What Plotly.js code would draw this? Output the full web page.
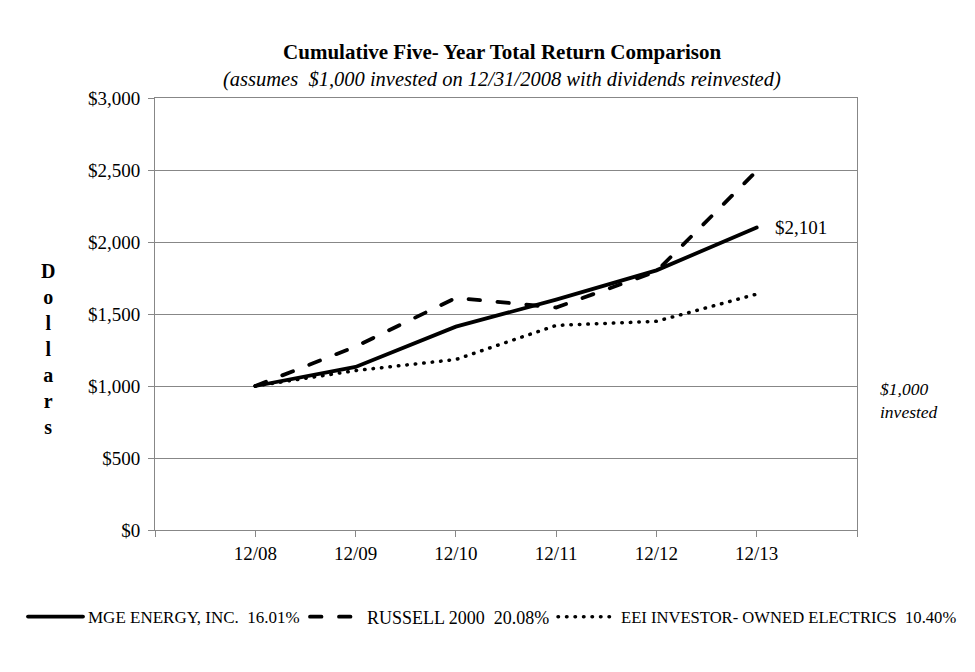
<!DOCTYPE html>
<html>
<head>
<meta charset="utf-8">
<script src="https://cdn.plot.ly/plotly-3.0.1.min.js"></script>
<style>
html,body{margin:0;padding:0;background:#fff;}
#chart{width:975px;height:672px;}
#chart .js-line{stroke-linecap:round;}
</style>
</head>
<body>
<div id="chart"></div>
<script>
const categories = ["12/08", "12/09", "12/10", "12/11", "12/12", "12/13"];
const mgeValues = [1000, 1132, 1412, 1600, 1803, 2101];
const russellValues = [1000, 1274, 1612, 1545, 1796, 2494];
const eeiValues = [1000, 1107, 1184, 1421, 1449, 1638];
const seriesNames = ["MGE ENERGY, INC.  16.01%", "RUSSELL 2000  20.08%", "EEI INVESTOR- OWNED ELECTRICS  10.40%"];
const yTickVals = [0, 500, 1000, 1500, 2000, 2500, 3000];
const yTickText = ["$0", "$500", "$1,000", "$1,500", "$2,000", "$2,500", "$3,000"];

const xPos = categories.map((c, i) => i);
const xTickVals = [-1].concat(xPos, [categories.length]);
const xTickText = [""].concat(categories, [""]);

const FONT = "Liberation Serif";

const traces = [
  {x: xPos, y: mgeValues, name: seriesNames[0], legend: "legend", mode: "lines", line: {color: "#000", width: 3.8, dash: "solid"}},
  {x: xPos, y: russellValues, name: seriesNames[1], legend: "legend2", mode: "lines", line: {color: "#000", width: 3.8, dash: "11.5px,17.5px"}},
  {x: xPos, y: eeiValues, name: seriesNames[2], legend: "legend3", mode: "lines", line: {color: "#000", width: 3.5, dash: "0.5px,8px"}}
];

const legendY = (530 - 617) / 432;
function legendAt(px, w, size) {
  return {orientation: "h", x: (px - 155) / 702, xanchor: "left", y: legendY, yanchor: "middle",
          font: {family: FONT, size: size, color: "#000"}, itemwidth: w, bgcolor: "rgba(0,0,0,0)", borderwidth: 0};
}

const layout = {
  width: 975, height: 672,
  margin: {l: 155, r: 118, t: 98, b: 142},
  paper_bgcolor: "#fff", plot_bgcolor: "#fff",
  font: {family: FONT, color: "#000", size: 19},
  showlegend: true,
  title: {text: "<b>Cumulative Five- Year Total Return Comparison</b>", x: 0.515, xanchor: "center", y: 1 - 52/672, yanchor: "middle", font: {family: FONT, size: 21, color: "#000"}},
  xaxis: {
    range: [-1, categories.length], tickmode: "array", tickvals: xTickVals, ticktext: xTickText,
    showgrid: false, zeroline: false, showline: true, mirror: true, linecolor: "#878787", linewidth: 1,
    ticks: "outside", ticklen: 6, tickcolor: "#878787", tickfont: {family: FONT, size: 19, color: "#000"}
  },
  yaxis: {
    range: [0, 3000], tickmode: "array", tickvals: yTickVals, ticktext: yTickText,
    showgrid: true, gridcolor: "#878787", gridwidth: 1, zeroline: false, showline: true, mirror: true,
    linecolor: "#878787", linewidth: 1, ticks: "outside", ticklen: 6, tickcolor: "#878787",
    ticklabelstandoff: 4,
    tickfont: {family: FONT, size: 19, color: "#000"}
  },
  legend: legendAt(23, 55, 17),
  legend2: legendAt(305, 52, 18),
  legend3: legendAt(553, 58, 16.6),
  annotations: [
    {xref: "paper", yref: "paper", x: 0.495, y: 1 + (530 - 80 - 432) / 432, xanchor: "center", yanchor: "middle", showarrow: false,
     text: "<i>(assumes  $1,000 invested on 12/31/2008 with dividends reinvested)</i>", font: {family: FONT, size: 20.5, color: "#000"}},
    {xref: "x", yref: "y", x: xPos[xPos.length - 1], y: mgeValues[mgeValues.length - 1], xanchor: "left", yanchor: "middle", xshift: 16, showarrow: false,
     text: "$2,101", font: {family: FONT, size: 19, color: "#000"}},
    {xref: "paper", yref: "paper", x: (878 - 155) / 702, y: (530 - 400) / 432, xanchor: "left", yanchor: "middle", align: "left", showarrow: false,
     text: "<i>$1,000<br>invested</i>", font: {family: FONT, size: 17.5, color: "#000"}},
    {xref: "paper", yref: "paper", x: (48 - 155) / 702, y: (530 - 349) / 432, xanchor: "center", yanchor: "middle", align: "center", showarrow: false,
     text: "<b>D<br>o<br>l<br>l<br>a<br>r<br>s</b>", font: {family: FONT, size: 20, color: "#000"}}
  ]
};

Plotly.newPlot("chart", traces, layout, {displayModeBar: false, staticPlot: true});
</script>
</body>
</html>
